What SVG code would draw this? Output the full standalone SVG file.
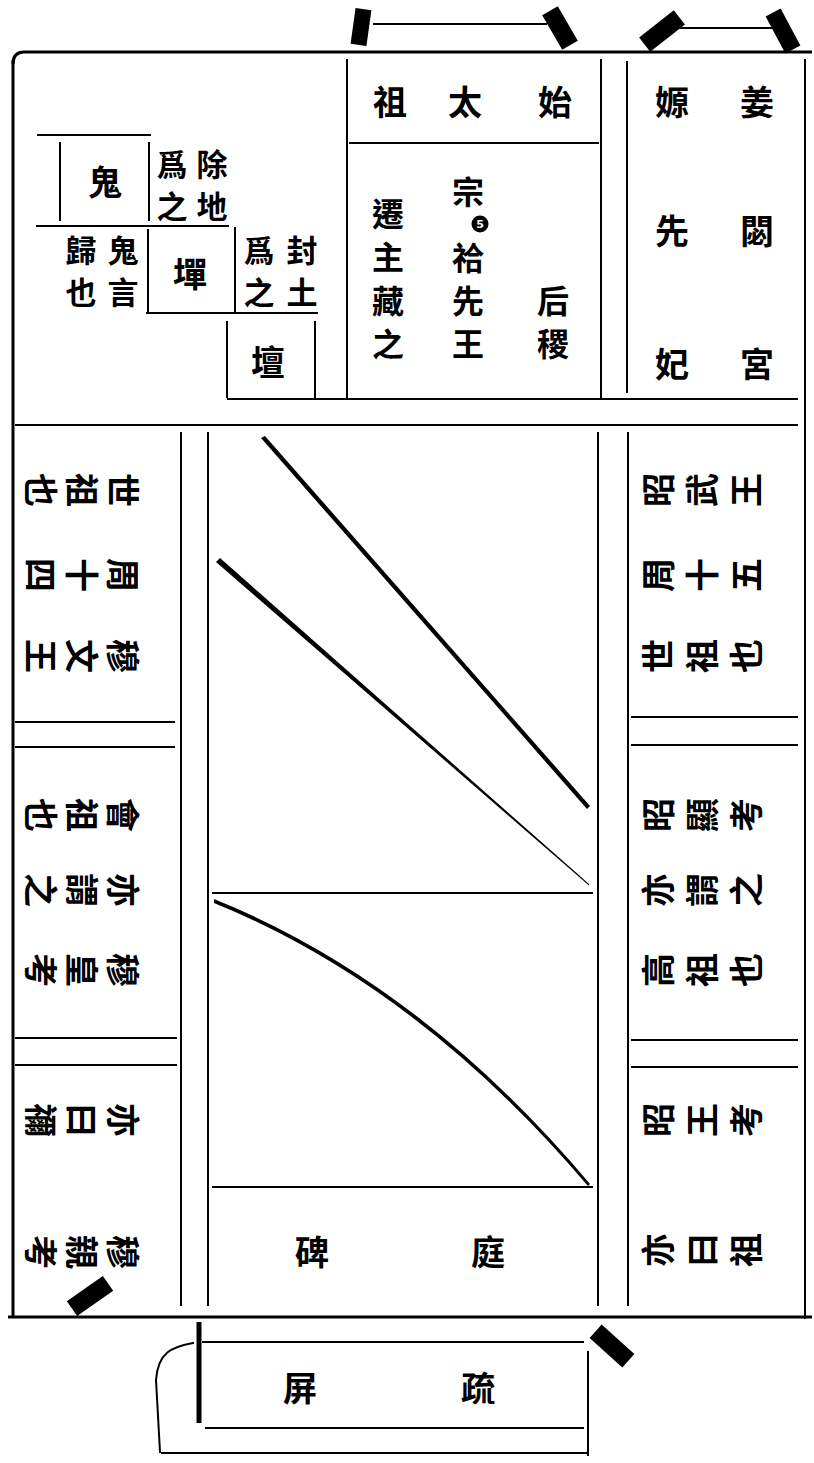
<svg xmlns="http://www.w3.org/2000/svg" width="814" height="1463" viewBox="0 0 814 1463">
<style>
.ln{stroke:#000;stroke-width:2;fill:none;stroke-linecap:square}
.lt{stroke:#000;stroke-width:3;fill:none}
.tab{fill:#000}
.t{font-family:"Noto Sans CJK TC","Noto Sans CJK SC",sans-serif;font-weight:700;font-size:34px;fill:#000;text-anchor:middle;dominant-baseline:central}
.m{font-size:32px}
.n{font-size:31px}
</style>
<rect width="814" height="1463" fill="#fff"/>
<g id="frame">
<path class="lt" d="M13,64 Q13,52 24,52 L812,52"/>
<line class="lt" x1="13" y1="60" x2="13" y2="1318"/>
<line class="ln" x1="805" y1="60" x2="805" y2="1318"/>
<line class="lt" x1="8" y1="1317" x2="812" y2="1317"/>
<line class="ln" x1="228" y1="399" x2="797" y2="399"/>
<line class="ln" x1="16" y1="425" x2="797" y2="425"/>
</g>
<g id="tabs">
<rect class="tab" x="-8" y="-18" width="16" height="36" transform="translate(361,27) rotate(8)"/>
<rect class="tab" x="-9" y="-20" width="18" height="40" transform="translate(560,28) rotate(-30)"/>
<line class="ln" x1="374" y1="24" x2="546" y2="24"/>
<rect class="tab" x="-9" y="-22" width="18" height="44" transform="translate(662,31) rotate(52)"/>
<rect class="tab" x="-8.5" y="-21" width="17" height="42" transform="translate(783,31) rotate(-28)"/>
<line class="ln" x1="680" y1="28" x2="772" y2="28"/>
<rect class="tab" x="-9" y="-22" width="18" height="44" transform="translate(90,1296) rotate(55)"/>
<rect class="tab" x="-9" y="-22" width="18" height="44" transform="translate(612,1346) rotate(-48)"/>
</g>
<g id="altars">
<line class="ln" x1="38" y1="135" x2="150" y2="135"/>
<line class="ln" x1="60" y1="143" x2="60" y2="220"/>
<line class="ln" x1="149" y1="143" x2="149" y2="220"/>
<line class="ln" x1="37" y1="226" x2="228" y2="226"/>
<text class="t" x="105" y="180">鬼</text>
<text class="t n" x="212" y="162">除</text><text class="t n" x="172" y="162">爲</text>
<text class="t n" x="212" y="204">地</text><text class="t n" x="172" y="204">之</text>
<line class="ln" x1="148" y1="230" x2="148" y2="311"/>
<line class="ln" x1="235" y1="228" x2="235" y2="312"/>
<line class="ln" x1="147" y1="313" x2="317" y2="313"/>
<text class="t" x="190" y="272">墠</text>
<text class="t n" x="123" y="248">鬼</text><text class="t n" x="81" y="248">歸</text>
<text class="t n" x="123" y="290">言</text><text class="t n" x="81" y="290">也</text>
<text class="t n" x="302" y="248">封</text><text class="t n" x="259" y="248">爲</text>
<text class="t n" x="302" y="290">土</text><text class="t n" x="259" y="290">之</text>
<line class="ln" x1="227" y1="322" x2="227" y2="397"/>
<line class="ln" x1="315" y1="322" x2="315" y2="397"/>
<text class="t" x="268" y="360">壇</text>
</g>
<g id="ancestral-hall">
<line class="ln" x1="347" y1="60" x2="347" y2="397"/>
<line class="ln" x1="601" y1="60" x2="601" y2="397"/>
<line class="ln" x1="350" y1="143" x2="598" y2="143"/>
<text class="t" x="555" y="100">始</text>
<text class="t" x="465" y="100">太</text>
<text class="t" x="390" y="100">祖</text>
<text class="t m" x="468" y="190">宗</text>
<circle cx="480" cy="224" r="8.5" fill="#000"/>
<text x="480" y="224.5" font-family="DejaVu Sans, sans-serif" font-weight="700" font-size="11" fill="#fff" text-anchor="middle" dominant-baseline="central">5</text>
<text class="t m" x="468" y="256">祫</text>
<text class="t m" x="468" y="299">先</text>
<text class="t m" x="468" y="342">王</text>
<text class="t m" x="388" y="212">遷</text>
<text class="t m" x="388" y="255">主</text>
<text class="t m" x="388" y="299">藏</text>
<text class="t m" x="388" y="342">之</text>
<text class="t m" x="553" y="299">后</text>
<text class="t m" x="553" y="342">稷</text>
</g>
<g id="jiang-yuan-temple">
<line class="ln" x1="627" y1="62" x2="627" y2="392"/>
<text class="t" x="757" y="100">姜</text>
<text class="t" x="672" y="100">嫄</text>
<text class="t" x="757" y="229">閟</text>
<text class="t" x="672" y="229">先</text>
<text class="t" x="757" y="362">宮</text>
<text class="t" x="672" y="362">妃</text>
</g>
<g id="left-halls">
<line class="ln" x1="181" y1="433" x2="181" y2="1305"/>
<line class="ln" x1="16" y1="722" x2="174" y2="722"/>
<line class="ln" x1="16" y1="747" x2="174" y2="747"/>
<line class="ln" x1="16" y1="1038" x2="176" y2="1038"/>
<line class="ln" x1="16" y1="1065" x2="176" y2="1065"/>
<g transform="translate(124,490) rotate(90)"><text class="t">世</text></g>
<g transform="translate(83,490) rotate(90)"><text class="t">祖</text></g>
<g transform="translate(42,490) rotate(90)"><text class="t">也</text></g>
<g transform="translate(124,575) rotate(90)"><text class="t">周</text></g>
<g transform="translate(83,575) rotate(90)"><text class="t">十</text></g>
<g transform="translate(42,575) rotate(90)"><text class="t">四</text></g>
<g transform="translate(124,656) rotate(90)"><text class="t">穆</text></g>
<g transform="translate(83,656) rotate(90)"><text class="t">文</text></g>
<g transform="translate(42,656) rotate(90)"><text class="t">王</text></g>
<g transform="translate(124,815) rotate(90)"><text class="t">會</text></g>
<g transform="translate(83,815) rotate(90)"><text class="t">祖</text></g>
<g transform="translate(42,815) rotate(90)"><text class="t">也</text></g>
<g transform="translate(124,890) rotate(90)"><text class="t">亦</text></g>
<g transform="translate(83,890) rotate(90)"><text class="t">謂</text></g>
<g transform="translate(42,890) rotate(90)"><text class="t">之</text></g>
<g transform="translate(124,970) rotate(90)"><text class="t">穆</text></g>
<g transform="translate(83,970) rotate(90)"><text class="t">皇</text></g>
<g transform="translate(42,970) rotate(90)"><text class="t">考</text></g>
<g transform="translate(124,1120) rotate(90)"><text class="t">亦</text></g>
<g transform="translate(83,1120) rotate(90)"><text class="t">曰</text></g>
<g transform="translate(42,1120) rotate(90)"><text class="t">禰</text></g>
<g transform="translate(124,1252) rotate(90)"><text class="t">穆</text></g>
<g transform="translate(83,1252) rotate(90)"><text class="t">親</text></g>
<g transform="translate(42,1252) rotate(90)"><text class="t">考</text></g>
</g>
<g id="right-halls">
<line class="ln" x1="628" y1="433" x2="628" y2="1305"/>
<line class="ln" x1="632" y1="717" x2="797" y2="717"/>
<line class="ln" x1="632" y1="745" x2="797" y2="745"/>
<line class="ln" x1="632" y1="1040" x2="797" y2="1040"/>
<line class="ln" x1="632" y1="1067" x2="797" y2="1067"/>
<g transform="translate(656,490) rotate(-90)"><text class="t">昭</text></g>
<g transform="translate(700,490) rotate(-90)"><text class="t">武</text></g>
<g transform="translate(744,490) rotate(-90)"><text class="t">王</text></g>
<g transform="translate(656,575) rotate(-90)"><text class="t">周</text></g>
<g transform="translate(700,575) rotate(-90)"><text class="t">十</text></g>
<g transform="translate(744,575) rotate(-90)"><text class="t">五</text></g>
<g transform="translate(656,656) rotate(-90)"><text class="t">世</text></g>
<g transform="translate(700,656) rotate(-90)"><text class="t">祖</text></g>
<g transform="translate(744,656) rotate(-90)"><text class="t">也</text></g>
<g transform="translate(656,815) rotate(-90)"><text class="t">昭</text></g>
<g transform="translate(700,815) rotate(-90)"><text class="t">顯</text></g>
<g transform="translate(744,815) rotate(-90)"><text class="t">考</text></g>
<g transform="translate(656,890) rotate(-90)"><text class="t">亦</text></g>
<g transform="translate(700,890) rotate(-90)"><text class="t">謂</text></g>
<g transform="translate(744,890) rotate(-90)"><text class="t">之</text></g>
<g transform="translate(656,970) rotate(-90)"><text class="t">高</text></g>
<g transform="translate(700,970) rotate(-90)"><text class="t">祖</text></g>
<g transform="translate(744,970) rotate(-90)"><text class="t">也</text></g>
<g transform="translate(656,1120) rotate(-90)"><text class="t">昭</text></g>
<g transform="translate(700,1120) rotate(-90)"><text class="t">王</text></g>
<g transform="translate(744,1120) rotate(-90)"><text class="t">考</text></g>
<g transform="translate(656,1250) rotate(-90)"><text class="t">亦</text></g>
<g transform="translate(700,1250) rotate(-90)"><text class="t">曰</text></g>
<g transform="translate(744,1250) rotate(-90)"><text class="t">祖</text></g>
</g>
<g id="courtyard">
<line class="ln" x1="208" y1="433" x2="208" y2="1305"/>
<line class="ln" x1="598" y1="433" x2="598" y2="1305"/>
<line class="ln" x1="213" y1="893" x2="592" y2="893"/>
<line class="ln" x1="213" y1="1187" x2="592" y2="1187"/>
<path d="M261,438 L265,436 L590,806 L587,809 Z" fill="#000"/>
<path d="M216,562 L220,558 L589,884 L589,885.5 Z" fill="#000"/>
<path d="M214,899 Q420,982 590,1184 L588,1186 Q418,986 214,903 Z" fill="#000"/>
<text class="t" x="312" y="1250">碑</text>
<text class="t" x="488" y="1250">庭</text>
</g>
<g id="screen">
<line x1="199" y1="1322" x2="199" y2="1423" stroke="#000" stroke-width="5"/>
<line class="ln" x1="203" y1="1342" x2="583" y2="1342"/>
<line class="ln" x1="588" y1="1352" x2="588" y2="1455"/>
<line class="ln" x1="206" y1="1428" x2="583" y2="1428"/>
<line class="ln" x1="162" y1="1453" x2="587" y2="1453"/>
<path class="ln" d="M193,1343 C172,1347 158,1352 156,1380 L160,1452"/>
<text class="t" x="300" y="1386">屏</text>
<text class="t" x="478" y="1386">疏</text>
</g>
</svg>
